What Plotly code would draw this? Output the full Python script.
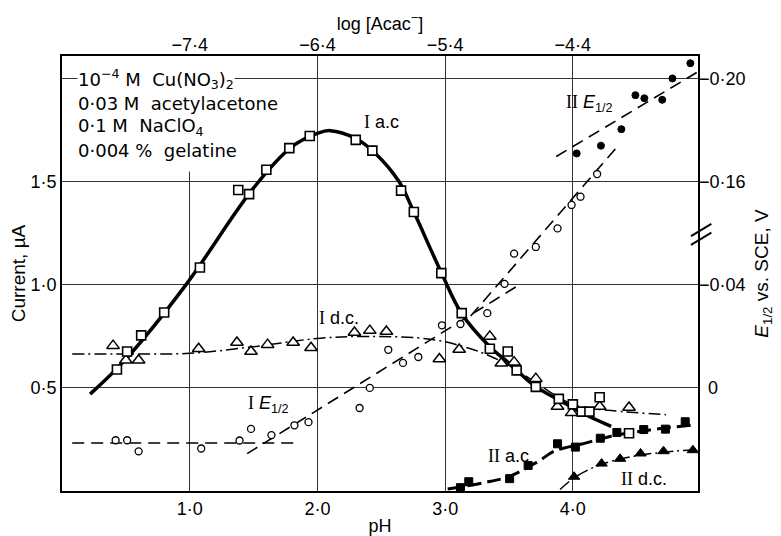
import plotly.graph_objects as go

# ---------------- data ----------------
# I a.c (open squares), current in uA vs pH
iac_ph = [0.43, 0.51, 0.62, 0.80, 1.08, 1.38, 1.465, 1.60, 1.78, 1.94, 2.30, 2.43, 2.655,
          2.755, 2.97, 3.13, 3.35, 3.49, 3.56, 3.71, 3.89, 4.00, 4.07, 4.13, 4.21, 4.44]
iac_i = [0.589, 0.677, 0.755, 0.866, 1.084, 1.46, 1.44, 1.558, 1.663, 1.722, 1.703, 1.651, 1.457,
         1.353, 1.057, 0.863, 0.69, 0.677, 0.585, 0.505, 0.447, 0.42, 0.385, 0.385, 0.455, 0.28]
iac_fit_ph = [0.22, 0.5, 0.97, 1.5, 1.8, 2.0, 2.1, 2.3, 2.45, 2.64, 2.75, 2.97, 3.13, 3.35, 3.5,
              3.7, 3.91, 4.1, 4.30]
iac_fit_i = [0.47, 0.64, 1.0, 1.47, 1.67, 1.735, 1.748, 1.71, 1.64, 1.50, 1.36, 1.06, 0.86, 0.70,
             0.62, 0.51, 0.435, 0.37, 0.314]

# I d.c. (open triangles)
idc_ph = [0.40, 0.50, 0.60, 1.07, 1.37, 1.48, 1.61, 1.81, 1.95, 2.29, 2.41, 2.54, 2.955, 3.11,
          3.35, 3.44, 3.54, 3.71, 3.88, 3.99, 4.21, 4.44]
idc_i = [0.705, 0.634, 0.634, 0.69, 0.72, 0.677, 0.71, 0.72, 0.695, 0.769, 0.778, 0.774, 0.64,
         0.686, 0.75, 0.62, 0.625, 0.545, 0.41, 0.379, 0.41, 0.405]
idc_fit_ph = [0.08, 0.5, 1.0, 1.5, 2.0, 2.4, 2.9, 3.2, 3.35, 3.5, 3.7, 3.9, 4.05, 4.3, 4.73]
idc_fit_i = [0.665, 0.665, 0.668, 0.70, 0.74, 0.75, 0.735, 0.69, 0.655, 0.61, 0.53, 0.45, 0.41,
             0.39, 0.37]

# II a.c (filled squares)
iiac_ph = [3.12, 3.185, 3.505, 3.65, 3.88, 4.02, 4.215, 4.345, 4.555, 4.725, 4.88]
iiac_i = [0.016, 0.045, 0.06, 0.124, 0.229, 0.213, 0.256, 0.284, 0.298, 0.30, 0.336]
iiac_fit_ph = [3.02, 3.3, 3.5, 3.73, 3.86, 4.07, 4.30, 4.59, 4.96]
iiac_fit_i = [0.01, 0.04, 0.07, 0.144, 0.195, 0.228, 0.266, 0.295, 0.322]

# II d.c. (filled triangles)
iidc_ph = [4.01, 4.225, 4.37, 4.53, 4.71, 4.94]
iidc_i = [0.069, 0.133, 0.156, 0.182, 0.193, 0.198]
iidc_fit_ph = [3.90, 4.01, 4.20, 4.48, 4.80, 4.99]
iidc_fit_i = [0.007, 0.064, 0.124, 0.169, 0.193, 0.201]

# I E1/2 (open circles), volts vs SCE
ie_ph = [0.42, 0.51, 0.60, 1.09, 1.39, 1.48, 1.64, 1.82, 1.93, 2.33, 2.41, 2.555, 2.67, 2.79,
         2.975, 3.12, 3.33, 3.465, 3.54, 3.71, 3.88, 3.99, 4.06, 4.19]
ie_v = [0.0203, 0.0203, 0.0246, 0.0235, 0.0204, 0.0159, 0.0183, 0.0145, 0.0133, 0.0078, 0.0,
        -0.0148, -0.0097, -0.0120, -0.0243, -0.0248, -0.0290, -0.0404, -0.0521, -0.0547,
        -0.1419, -0.1510, -0.1542, -0.1630]
ie_flat_ph = [0.08, 1.85]
ie_flat_v = [0.0214, 0.0214]
ie_rise_ph = [1.45, 3.58]
ie_rise_v = [0.0255, -0.0400]
ie_steep_ph = [3.20, 4.355]
ie_steep_v = [-0.0279, -0.1740]

# II E1/2 (filled circles)
iie_ph = [4.03, 4.22, 4.38, 4.49, 4.56, 4.70, 4.78, 4.92]
iie_v = [-0.171, -0.174, -0.1804, -0.1936, -0.1924, -0.1918, -0.2001, -0.206]
iie_fit_ph = [3.87, 4.97]
iie_fit_v = [-0.1698, -0.2024]

# axes
ph_ticks = [1, 2, 3, 4]
ph_ticktext = ["1·0", "2·0", "3·0", "4·0"]
acac_ticks = [-7.4, -6.4, -5.4, -4.4]
acac_ticktext = ["−7·4", "−6·4", "−5·4", "−4·4"]
cur_ticks = [0.5, 1.0, 1.5, 2.0]
cur_ticktext = ["0·5", "1·0", "1·5", ""]
e_ticks = [0.0, -0.04, -0.16, -0.20]
e_ticktext = ["\u20020", "−0·04", "−0·16", "−0·20"]

PH_RANGE = [0, 4.98]
I_RANGE = [0, 2.11]
ACAC_OFFSET = 8.4  # log[Acac-] = pH - 8.4


# broken right axis: 0 .. -0.06 V below the break, -0.14 .. -0.20 V above it
def e_axis(v):
    return -v if v > -0.10 else -v - 0.08


def e_list(vals):
    return [e_axis(v) for v in vals]


def i_to_e_axis(i):
    return (i - 0.5) * 0.08


FONT = "Liberation Sans"
WIDE = "DejaVu Sans"
SERIF = "Liberation Serif"

fig = go.Figure()

# ------------- lines -------------
fig.add_trace(go.Scatter(x=iac_fit_ph, y=iac_fit_i, mode="lines", line_shape="spline",
                         line=dict(color="black", width=3.5)))
fig.add_trace(go.Scatter(x=idc_fit_ph, y=idc_fit_i, mode="lines", line_shape="spline",
                         line=dict(color="black", width=1.5, dash="12px,4px,2px,4px")))
fig.add_trace(go.Scatter(x=iiac_fit_ph, y=iiac_fit_i, mode="lines", line_shape="spline",
                         line=dict(color="black", width=3, dash="14px,6px")))
fig.add_trace(go.Scatter(x=iidc_fit_ph, y=iidc_fit_i, mode="lines", line_shape="spline",
                         line=dict(color="black", width=1.5, dash="12px,4px,2px,4px")))
for xs, vs in [(ie_flat_ph, ie_flat_v), (ie_rise_ph, ie_rise_v), (ie_steep_ph, ie_steep_v),
               (iie_fit_ph, iie_fit_v)]:
    fig.add_trace(go.Scatter(x=xs, y=e_list(vs), yaxis="y2", mode="lines",
                             line=dict(color="black", width=1.6, dash="12px,7px")))

# ------------- markers -------------
fig.add_trace(go.Scatter(x=ie_ph, y=e_list(ie_v), yaxis="y2", mode="markers",
                         marker=dict(symbol="circle", size=7, color="white",
                                     line=dict(color="black", width=1.3))))
# II E1/2 plotted against the top (log [Acac-]) axis, which is pH - 8.4
fig.add_trace(go.Scatter(x=[p - ACAC_OFFSET for p in iie_ph], y=e_list(iie_v),
                         xaxis="x2", yaxis="y2", mode="markers",
                         marker=dict(symbol="circle", size=7, color="black",
                                     line=dict(color="black", width=1))))
fig.add_trace(go.Scatter(x=idc_ph, y=idc_i, mode="markers",
                         marker=dict(symbol="triangle-up", size=11, color="white",
                                     line=dict(color="black", width=1.5))))
fig.add_trace(go.Scatter(x=iac_ph, y=iac_i, mode="markers",
                         marker=dict(symbol="square", size=9, color="white",
                                     line=dict(color="black", width=1.6))))
fig.add_trace(go.Scatter(x=iiac_ph, y=iiac_i, mode="markers",
                         marker=dict(symbol="square", size=8, color="black",
                                     line=dict(color="black", width=1))))
fig.add_trace(go.Scatter(x=iidc_ph, y=iidc_i, mode="markers",
                         marker=dict(symbol="triangle-up", size=10, color="black",
                                     line=dict(color="black", width=1))))

# ------------- annotations -------------
ann = []
cond_lines = ["10<sup>−4</sup> M  Cu(NO<sub>3</sub>)<sub>2</sub>",
              "0·03 M  acetylacetone",
              "0·1 M  NaClO<sub>4</sub>",
              "0·004 %  gelatine"]
cond_y = [2.0, 1.88, 1.765, 1.65]
for t, yv in zip(cond_lines, cond_y):
    ann.append(dict(x=0.12, y=yv, xref="x", yref="y", text=t, showarrow=False,
                    xanchor="left", yanchor="middle", bgcolor="white", borderpad=0,
                    font=dict(family=WIDE, size=18, color="black")))


def roman(r):
    return f'<span style="font-family:{SERIF}">{r}</span>'


labels = [
    (roman("I") + " a.c", 2.5, 1.79),
    (roman("I") + " d.c.", 2.17, 0.84),
    (roman("I") + " <i>E</i><sub>1/2</sub>", 1.62, 0.42),
    (roman("II") + " <i>E</i><sub>1/2</sub>", 4.13, 1.88),
    (roman("II") + " a.c", 3.5, 0.17),
    (roman("II") + " d.c.", 4.56, 0.06),
]
for t, xv, yv in labels:
    ann.append(dict(x=xv, y=yv, xref="x", yref="y", text=t, showarrow=False,
                    xanchor="center", yanchor="middle",
                    font=dict(family=FONT, size=18, color="black")))

AX_FONT = dict(family=FONT, size=18, color="black")

# the page body adds an 8px offset, so the figure is 8px smaller than the window
fig.update_layout(
    width=773, height=528,
    margin=dict(l=54, r=83, t=48, b=45),
    paper_bgcolor="white", plot_bgcolor="white",
    showlegend=False,
    font=dict(family=FONT, size=18, color="black"),
    annotations=ann,
    xaxis=dict(range=PH_RANGE, tickvals=ph_ticks, ticktext=ph_ticktext, automargin=False,
               showgrid=True, gridcolor="#333", gridwidth=1, zeroline=False,
               showline=True, linecolor="black", linewidth=2, mirror=True, ticks="",
               tickfont=AX_FONT, title=dict(text="pH", standoff=4, font=AX_FONT)),
    xaxis2=dict(range=[PH_RANGE[0] - ACAC_OFFSET, PH_RANGE[1] - ACAC_OFFSET],
                overlaying="x", side="top", anchor="y", automargin=False,
                tickvals=acac_ticks, ticktext=acac_ticktext, showgrid=False, zeroline=False,
                ticks="", tickfont=AX_FONT,
                title=dict(text="log [Acac<sup>−</sup>]", standoff=0, font=AX_FONT)),
    yaxis=dict(range=I_RANGE, tickvals=cur_ticks, ticktext=cur_ticktext, automargin=False,
               showgrid=True, gridcolor="#333", gridwidth=1, zeroline=False,
               showline=True, linecolor="black", linewidth=2, mirror=True, ticks="",
               tickfont=AX_FONT,
               title=dict(text="Current, µA", standoff=0, font=dict(family=FONT, size=19))),
    yaxis2=dict(range=[i_to_e_axis(I_RANGE[0]), i_to_e_axis(I_RANGE[1])],
                overlaying="y", side="right", anchor="x", automargin=False,
                tickvals=e_list(e_ticks), ticktext=e_ticktext, showgrid=False,
                zeroline=False, ticks="", tickfont=AX_FONT,
                title=dict(text="<i>E</i><sub>1/2</sub> vs. SCE, V", standoff=10,
                           font=dict(family=FONT, size=19))),
    shapes=[
        dict(type="rect", xref="x", yref="y", x0=0.93, x1=1.07, y0=1.55, y1=2.11,
             fillcolor="white", line=dict(width=0), layer="between"),
        dict(type="line", xref="paper", yref="paper", x0=0.989, x1=1.021, y0=0.566, y1=0.594,
             line=dict(color="black", width=2)),
        dict(type="line", xref="paper", yref="paper", x0=0.989, x1=1.021, y0=0.586, y1=0.614,
             line=dict(color="black", width=2)),
    ],
)

fig.write_html("out.html")
